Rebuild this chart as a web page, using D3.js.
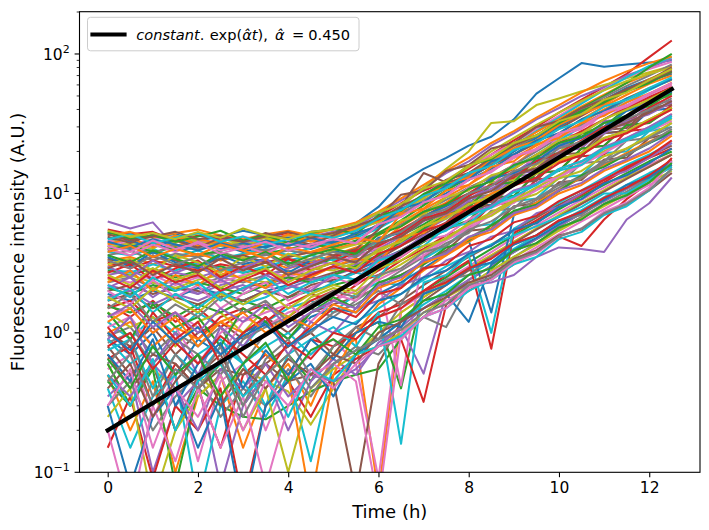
<!DOCTYPE html>
<html><head><meta charset="utf-8">
<script src="https://cdn.jsdelivr.net/npm/d3@7"></script>
<style>body{margin:0;background:#fff}svg{display:block}text{font-family:"DejaVu Sans",sans-serif;fill:#000}</style>
</head><body><svg id="c" width="709" height="530"></svg>
<script>
const times = [0,0.5,1,1.5,2,2.5,3,3.5,4,4.5,5,5.5,6,6.5,7,7.5,8,8.5,9,9.5,10,10.5,11,11.5,12,12.5];
const traces = [
[5.2,4.8,4.9,5.1,4.6,4.9,5.4,5.0,4.8,5.3,5.5,6.1,8.0,12,15,18,22,25.5,34,52,67,86,81,84,87,90],
[0.5,0.2,0.45,0.1,0.35,0.5,0.15,0.4,0.6,0.3,0.7,0.9,0.07,1.4,1.8,2.3,2.9,3.6,4.5,5.6,6.9,8.5,10.5,13,16,19],
[2.8,2.6,2.9,2.5,2.8,3.0,2.7,2.9,3.2,3.0,3.4,3.7,4.3,5.0,6.0,7.5,8.4,11.8,13,18.5,19.5,27,30,41,44,55],
[5.5,5.1,5.3,4.6,5.0,4.7,4.5,4.9,5.2,4.6,5.1,5.6,6.8,8.5,10.5,12,15,19,24,30,38,47,58,72,95,125],
[6.3,5.6,6.2,4.1,4.6,4.2,4.4,4.8,5.0,4.9,5.3,5.8,7.2,8.9,11,14,17,22,27,34,41,50,58,70,80,92],
[1.0,0.8,1.1,0.7,1.0,1.2,0.9,1.3,1.0,1.4,1.6,1.8,2.1,2.6,3.2,3.9,5.4,5.6,8.1,8.5,12,12.5,17.5,18,25,27],
[0.55,0.7,0.25,0.5,0.12,0.45,0.6,0.2,0.5,0.7,0.9,0.6,0.09,1.5,1.9,2.4,3.0,3.8,4.8,5.9,7.3,9.0,11,13.5,16,19],
[2.3,2.5,2.1,2.4,2.2,2.5,2.3,2.6,2.8,2.6,3.0,3.3,3.9,4.6,5.6,6.9,9.3,9.8,14.2,15,21.5,22.5,32,34,47,50],
[4.5,4.9,4.6,4.4,5.2,4.8,4.3,4.6,5.0,5.2,4.8,5.4,6.3,8.0,11,15,20,32,33,43,48,54,60,67,74,82],
[1.2,0.9,1.3,1.0,1.4,1.1,0.8,1.2,1.5,1.7,1.4,1.9,2.3,2.2,3.4,4.2,5.8,6.0,8.8,9.2,13,13.5,19.5,20,28,30],
[4.2,4.0,4.4,3.9,4.1,4.3,3.8,4.2,4.4,4.0,4.5,4.9,6.0,7.3,8.5,10,12.5,15,19,24,30,37,45,55,64,72],
[3.0,3.2,2.7,3.1,2.9,2.6,3.0,3.3,2.9,3.2,3.6,4.1,4.4,5.8,7.2,8.6,11,13,16,21,26,32,40,48,57,65],
[0.45,0.3,0.6,0.2,0.4,0.3,0.25,0.24,0.3,0.38,0.45,0.5,0.55,0.9,1.3,1.8,2.4,3.0,3.8,4.7,5.8,7.2,8.8,10.8,13,16],
[1.6,1.3,1.7,1.2,1.5,1.1,1.4,1.6,1.3,1.7,2.0,2.3,2.6,3.3,4.0,5.0,5.7,8.3,8.6,12.6,13,18.5,19,28,29,37],
[2.2,2.0,2.3,2.1,1.9,2.2,2.4,2.1,2.4,2.7,2.9,3.1,3.6,4.3,5.4,6.6,8.8,9.0,13.2,13.8,20,21,30,31,44,46],
[0.7,0.4,0.6,0.2,0.5,0.7,0.35,0.6,0.8,1.0,0.7,1.1,1.3,1.7,2.2,2.8,3.5,4.3,5.4,6.7,8.3,10,12.5,15,18.5,22],
[4.6,4.3,4.7,4.9,4.4,4.6,4.9,4.5,4.2,4.7,5.0,5.3,6.5,7.8,9.8,12.5,15.5,19,23,29,36,45,56,68,78,88],
[0.95,1.1,0.7,1.0,0.8,1.1,0.6,1.0,1.2,1.5,1.3,1.7,2.2,2.8,3.5,4.4,5.2,7.5,7.8,11,11.5,16.5,17,24,25,32],
[0.6,0.3,0.55,0.4,0.5,0.35,0.55,0.45,0.38,0.22,0.4,0.7,1.0,1.4,1.8,2.3,2.9,3.6,4.5,5.6,7.0,8.6,10.5,13,15.5,19],
[3.8,3.6,4.0,3.5,3.9,3.4,3.7,4.0,3.6,4.1,4.4,4.8,5.6,6.9,8.7,11,14,17,22,28,35,44,55,68,82,95],
[1.9,1.7,2.0,1.8,2.1,1.9,1.7,2.0,2.2,2.5,2.3,2.8,3.3,3.9,4.8,6.0,8.1,8.3,12,12.5,18,18.5,27,28,39,41],
[4.4,4.1,4.5,4.2,4.7,4.4,4.1,4.6,4.3,4.8,5.2,5.5,6.4,7.6,9.3,11.5,14,17.5,22,27.5,34,42,51,62,72,82],
[0.6,0.3,0.55,0.08,0.4,0.6,0.3,0.5,0.7,0.45,0.8,1.0,1.2,0.4,2.0,2.5,3.2,4.0,5.0,6.2,7.7,9.5,11.5,14,17,20],
[1.5,1.7,1.2,1.4,0.9,1.3,1.5,1.2,1.6,1.9,1.7,2.2,2.8,3.5,4.5,5.5,6.3,9.2,9.5,14,14.5,21,22,31,32,43],
[0.35,0.5,0.1,0.3,0.45,0.08,0.3,0.5,0.2,0.45,0.65,0.5,0.85,1.1,0.51,1.9,2.4,3.0,3.8,4.7,5.8,7.2,8.8,10.8,13,16],
[2.0,2.2,1.9,2.1,2.0,1.8,2.1,2.3,2.5,2.4,2.7,3.0,3.4,4.2,5.1,6.2,8.5,8.7,12.6,13,19,19.5,28.5,29.5,41,43],
[1.1,1.3,0.8,1.1,0.6,1.0,1.3,1.1,1.4,1.6,1.9,1.7,2.5,0.42,3.8,4.7,5.8,7.2,8.8,11,13.5,16.5,20,25,30,36],
[3.6,3.9,3.3,3.7,3.5,3.8,3.4,3.6,3.9,3.7,4.2,4.5,5.1,6.0,7.4,9.0,11,13,16,20,25,31,38,47,56,66],
[2.4,2.6,2.3,2.1,2.4,2.6,2.5,2.3,2.7,2.9,2.8,3.2,3.8,4.7,5.8,7.2,8.0,12,12.5,16,19.5,28,29,36,49,57],
[0.4,0.15,0.35,0.5,0.06,0.3,0.45,0.25,0.5,0.12,0.6,0.75,0.9,1.2,1.6,2.0,2.6,3.2,4.0,5.0,6.2,7.6,9.4,11.5,14,16.5],
[0.9,0.7,1.0,0.5,0.9,0.7,1.0,1.2,0.9,1.3,1.5,1.4,1.9,2.3,2.9,3.7,4.6,1.4,7.0,8.6,10.5,13,16,19,23,27],
[5.0,5.3,4.8,5.2,5.5,5.0,4.7,5.1,5.4,5.0,5.6,6.2,7.4,9.2,11.5,14.5,18,23,28,35,43,53,64,75,86,96],
[4.0,4.3,3.8,4.1,3.6,3.9,4.2,3.7,4.0,4.3,4.1,4.6,5.2,6.4,8.2,10.5,13,16,20,26,33,41,50,62,80,100],
[0.65,0.8,0.3,0.6,0.4,0.15,0.5,0.7,0.5,0.9,0.8,1.0,1.4,1.6,2.0,2.6,3.3,0.77,5.2,6.4,8.0,9.8,12,15,18,21],
[2.6,2.8,2.4,2.7,2.5,2.8,3.0,2.6,2.9,3.3,3.1,3.6,4.0,4.9,6.3,7.8,9.0,11.5,14,18,22,27,34,42,51,62],
[0.8,0.5,0.7,0.6,0.4,0.55,0.5,0.6,0.45,0.5,0.45,0.07,0.6,1.2,1.7,2.2,2.8,3.5,4.4,5.5,6.8,8.4,10.3,12.7,15.5,19],
[2.5,2.3,2.6,2.2,2.5,2.3,2.6,2.8,2.5,2.9,3.2,3.5,4.1,5.2,6.5,8.1,11,11.2,16.5,17,26,26.5,39,40,52,60],
[0.3,0.45,0.2,0.35,0.5,0.25,0.4,0.3,0.55,0.35,0.6,0.8,0.7,1.0,1.3,1.1,2.2,2.8,3.5,4.4,5.5,6.8,8.4,10.3,12.7,15.5],
[1.4,1.1,1.3,0.8,1.2,1.4,1.0,1.5,1.3,1.8,2.1,1.9,2.5,3.1,3.9,4.8,6.0,7.3,9.0,11,13.5,16.5,20,24,29,34],
[0.75,0.9,0.4,0.7,0.5,0.8,0.6,0.3,0.7,0.9,1.1,0.8,1.4,0.16,2.3,2.6,3.6,1.0,5.6,6.9,8.6,10.5,13,16,19,23],
[4.8,4.5,4.2,4.6,4.3,4.0,4.4,4.1,4.5,4.2,4.6,5.0,5.8,7.0,8.8,11,13,16,20,25,31,38,47,57,66,76],
[3.3,3.5,3.1,3.4,3.7,3.3,3.6,3.9,3.5,3.8,4.0,4.4,5.0,6.2,7.7,9.4,11.5,14.5,18,22,27,34,42,51,61,70],
[1.55,1.4,1.65,1.3,1.6,1.4,1.7,1.5,1.8,2.0,2.2,2.4,2.9,3.6,4.5,5.6,6.4,9.3,9.6,14,14.5,21,22,31,32,41],
[0.15,0.35,0.09,0.3,0.2,0.4,0.06,0.3,0.45,0.25,0.5,0.65,0.8,0.9,0.32,1.6,2.0,2.5,3.1,3.9,4.9,4.2,6.5,9.1,12,18],
[1.8,2.0,1.6,1.9,1.7,2.0,2.2,1.9,2.1,2.4,2.6,2.9,3.5,4.4,5.5,6.8,9.2,9.4,14,14.3,22,22.5,33,34,48,53],
[3.4,3.1,3.5,3.3,3.0,3.4,3.6,3.2,3.5,3.8,3.6,4.0,5.5,8.0,14,12,13,16,19,23,29,36,44,54,63,74],
[1.3,1.5,1.0,1.4,1.1,0.7,1.2,1.4,1.6,1.2,1.7,2.0,2.4,2.9,3.6,4.6,5.6,7.0,8.6,10.5,13,16,19.5,24,28,33],
[3.9,4.1,3.7,4.3,4.0,4.5,4.2,3.9,4.3,4.6,4.4,5.1,5.9,7.1,8.9,11,13.5,16.5,21,26,32,40,49,59,70,84],
[0.25,0.4,0.06,0.2,0.35,0.5,0.2,0.4,0.1,0.4,0.55,0.7,0.8,1.0,1.4,1.8,2.2,2.8,3.5,4.3,5.4,6.6,8.1,9.9,12,14.5],
[2.9,2.7,3.1,2.8,3.2,2.9,2.7,3.0,3.3,3.6,3.3,3.8,4.5,5.4,6.6,8.2,10,12.5,15.5,19,24,30,37,45,55,66],
[0.3,0.08,0.25,0.4,0.15,0.35,0.05,0.3,0.45,0.6,0.35,0.7,0.9,1.2,1.5,1.9,1.2,3.1,3.9,4.8,6.0,7.3,9.0,11,13.5,16],
[1.0,1.2,0.8,1.1,0.9,1.2,1.0,0.7,0.5,0.06,0.5,1.0,1.6,2.1,2.8,3.6,4.5,5.6,7.0,8.6,10.6,13,16,19.5,23.5,28],
[2.1,1.9,2.2,2.0,2.3,2.1,1.9,2.2,2.5,2.3,2.6,3.0,3.6,4.5,5.6,7.0,7.9,11.6,12,17.8,18.5,27,28,40,42,54],
[3.2,2.9,3.3,3.0,2.8,3.1,2.9,3.2,3.4,3.1,3.5,3.9,4.6,5.5,6.8,8.4,10,12.5,15,19,23,28,34,41,49,58],
[0.5,0.35,0.6,0.4,0.2,0.55,0.4,0.6,0.35,0.5,0.45,0.55,0.8,1.1,1.5,1.9,2.2,2.3,2.6,3.5,4.1,4.0,3.8,6.5,8.5,13],
[1.7,1.9,1.5,1.8,1.6,1.9,1.7,2.0,1.8,2.2,2.4,2.7,3.1,3.9,4.8,5.9,8.0,8.2,12,12.3,18,18.5,27,28,40,44],
[0.2,0.05,0.3,0.12,0.4,0.15,0.35,0.08,0.3,0.5,0.6,0.45,0.06,1.0,1.3,1.7,2.1,2.7,3.3,4.1,5.1,6.3,7.7,9.5,11.5,14],
[0.85,1.0,0.6,0.9,0.7,0.5,0.9,1.1,1.3,1.0,1.4,1.6,2.0,1.6,3.1,3.8,4.8,5.9,7.3,9.0,11,13.5,17,21,25,30],
[4.1,4.4,4.0,5.0,4.5,4.2,4.6,4.8,4.4,4.9,5.1,5.6,6.2,7.6,9.2,12,15.5,20,25,31,38,46,55,64,72,80],
[0.9,0.6,0.8,0.5,0.7,0.9,0.6,0.8,1.0,0.7,1.0,1.2,1.5,1.9,2.4,3.0,3.6,4.3,5.0,5.8,6.8,8.0,10,10,12.5,15.5],
[3.5,3.0,3.8,3.2,2.9,3.6,3.1,3.4,2.7,3.3,3.9,3.5,4.8,5.2,6.9,8.1,9.5,12.8,14,17,22,25,30,39,44,53],
[4.3,4.8,4.1,5.0,4.2,4.6,3.9,4.4,5.1,4.5,4.9,5.7,6.4,7.3,9.8,11.5,13,17.5,21,24,31,37,43,55,66,78],
[1.4,0.9,1.6,1.1,1.3,0.8,1.5,1.2,0.9,1.4,1.8,1.5,2.3,2.6,3.1,4.1,4.6,5.9,7.5,8.3,10.4,13.5,15.5,19,23,28],
[2.7,3.1,2.4,2.9,3.3,2.5,3.0,2.6,3.4,2.8,3.2,3.8,4.2,5.1,6.6,7.4,9.6,11.5,13,17,19.5,24,30,33,41,50],
[0.9,1.3,0.6,1.0,0.5,1.1,0.8,1.3,0.7,1.2,1.0,1.5,1.7,2.2,2.5,3.3,3.8,4.9,5.4,7.2,8.0,10,12.8,14.5,18,23],
[4.9,4.4,5.1,4.6,4.1,4.8,4.5,5.2,4.7,4.3,5.0,5.9,6.5,8.1,9.6,12.5,14,18,22,26,33,39,46,56,65,80],
[2.0,1.6,2.4,1.8,2.2,1.5,1.9,2.3,1.7,2.1,2.5,2.2,3.2,3.5,4.6,5.0,6.5,7.9,9.2,11.8,13,16.5,21,24,29,36],
[0.6,0.9,0.35,0.7,0.45,0.8,0.3,0.65,0.9,0.5,0.8,1.1,0.9,1.6,1.9,2.4,2.6,3.5,4.3,5.0,6.4,7.0,9.1,11,13,17],
[3.1,3.4,2.8,3.6,3.2,2.7,3.5,3.0,3.7,3.3,3.9,4.3,4.6,6.4,7.0,9.4,10.5,13.5,15,19,24,27,34,40,47,57],
[1.7,2.1,1.4,1.9,1.5,2.0,1.6,1.8,2.2,1.9,2.3,2.7,2.5,3.9,4.2,5.7,6.1,8.2,9.5,11.5,14.6,16,21,24,28,35],
[0.7,0.45,0.9,0.3,0.6,0.85,0.4,0.75,0.5,0.9,0.65,1.0,1.2,1.1,1.9,2.2,2.9,3.2,4.3,5.0,6.3,7.4,9.0,11.5,13,17],
[2.3,2.8,2.0,2.6,2.2,2.9,2.4,2.1,2.7,2.5,3.0,3.4,3.2,4.9,5.2,7.0,7.7,10,11.5,14,17,19.5,25,28,34,41],
[5.3,4.7,5.0,4.5,4.9,5.4,4.6,5.0,4.4,5.2,5.6,5.1,7.0,7.5,9.9,11.8,16,17.5,23,26,32,39,45,54,62,75],
[1.1,0.7,1.4,0.9,1.2,0.6,1.0,1.3,0.8,1.1,1.5,1.3,1.9,2.1,2.9,3.1,4.2,4.7,6.2,6.9,8.8,10.5,12.5,15.5,18.5,24],
[3.0,2.5,3.3,2.7,3.1,2.4,2.9,3.4,2.6,3.1,3.5,3.2,4.4,4.9,6.4,7.1,9.2,10.8,13.5,15,19,23,27,33,37,45],
[0.4,0.6,0.25,0.45,0.7,0.3,0.55,0.4,0.65,0.5,0.7,0.6,1.0,1.2,1.5,1.8,2.3,2.6,3.4,3.9,5.0,5.5,7.2,8.4,10.5,14],
[4.0,3.6,4.3,3.8,4.5,3.9,4.2,3.7,4.4,4.1,4.7,4.4,6.0,6.8,8.7,9.6,12.5,14.5,18,20.5,26,29,37,42,51,60],
[1.5,1.9,1.2,1.6,1.3,1.8,1.4,1.7,1.2,1.6,2.0,1.8,2.6,2.9,3.8,4.2,5.5,6.3,8.0,9.2,11.5,13,16.5,19,23,29],
[2.6,2.2,2.9,2.4,2.7,2.1,2.5,2.9,2.3,2.8,3.2,2.9,4.0,4.5,5.8,6.6,8.4,9.5,12,13.8,17.5,19.5,25,28,34,41],
[0.5,0.3,0.65,0.2,0.45,0.6,0.35,0.5,0.25,0.55,0.45,0.7,0.8,0.95,1.3,1.5,2.0,2.4,3.1,3.5,4.7,5.3,7.0,8.1,10.5,15],
[4.5,4.1,4.7,4.3,3.9,4.4,4.0,4.6,4.2,4.8,4.4,5.2,5.8,7.8,8.6,11.5,12.5,17,19,24,27,34,39,48,56,66],
[1.2,1.5,1.0,1.3,0.8,1.2,1.4,1.0,1.3,1.1,1.6,1.4,2.1,2.4,3.2,3.6,4.7,5.3,7.0,7.9,10,11.5,14.5,17,20,26],
[3.6,3.2,3.9,3.4,3.0,3.7,3.3,3.8,3.1,3.6,4.0,3.7,5.1,5.8,7.4,8.3,10.8,12.2,16,18,23,25.5,32,36,44,52],
[0.8,1.0,0.55,0.85,0.6,0.95,0.7,0.5,0.85,0.65,1.0,0.9,1.3,1.5,2.0,2.3,2.9,3.4,4.4,5.0,6.4,7.4,9.3,11,13.5,17.5],
[2.1,2.5,1.8,2.3,1.9,2.4,2.0,2.6,2.2,2.0,2.6,2.4,3.4,3.8,5.0,5.6,7.2,8.1,10.5,11.8,15,17,21.5,25,30,37],
[5.1,4.6,4.9,5.3,4.7,5.0,4.5,4.9,5.3,4.8,5.2,5.8,6.7,9.8,10.5,14.5,16,21,23,30,33,41,47,56,64,76],
[0.3,0.55,0.15,0.4,0.25,0.5,0.2,0.45,0.3,0.55,0.4,0.6,0.8,0.9,1.3,1.5,2.1,2.4,3.2,3.7,4.9,5.6,7.4,8.6,11,17],
[3.3,2.9,3.6,3.1,3.5,2.8,3.2,3.7,3.0,3.4,3.8,3.5,4.7,5.3,6.9,7.7,10,11.3,14.5,16.3,21,23.5,29,34,40,48],
[1.8,1.5,2.1,1.7,1.4,1.9,1.6,2.0,1.5,1.9,2.2,2.0,2.9,3.3,4.2,4.7,6.1,6.9,8.8,9.9,12.8,14.5,18.5,21,26,32],
[4.7,5.1,4.4,4.8,5.2,4.5,4.9,4.3,4.7,5.1,4.8,5.4,6.6,7.6,9.6,10.9,14,15.8,20.5,23,29,33,42,47,57,68],
[1.0,0.75,1.2,0.85,1.1,0.7,0.95,1.15,0.8,1.05,1.3,1.15,1.7,1.9,2.5,2.8,3.7,4.2,5.5,6.1,8.0,9.1,11.8,13.5,16.5,21],
[3.8,4.2,3.5,4.0,3.6,4.3,3.9,3.4,4.1,3.8,4.3,4.8,4.5,7.1,7.8,10.5,11.5,15.5,17,22.5,25,32,36,45,52,62],
[0.65,0.4,0.8,0.5,0.7,0.35,0.6,0.85,0.45,0.75,0.9,0.7,1.1,1.25,1.7,1.9,2.6,2.9,3.9,4.4,5.7,6.5,8.4,9.7,12,16.5],
[2.5,2.1,2.8,2.3,2.6,2.0,2.4,2.8,2.2,2.6,3.0,2.7,3.7,4.2,5.4,6.1,7.9,8.9,11.4,12.9,16.5,18.8,24,27,33,40],
[1.3,1.6,1.1,1.4,1.0,1.5,1.2,1.6,1.1,1.4,1.7,1.5,2.2,2.5,3.3,3.7,4.9,5.5,7.2,8.1,10.5,11.9,15,17.5,21,27],
[2.9,3.3,2.6,3.1,2.7,3.4,2.8,3.2,2.6,3.0,3.5,3.2,4.4,4.9,6.4,7.2,9.2,10.4,13.5,15.2,19.5,22,28,32,38,46],
[4.2,3.8,4.6,4.0,4.4,3.7,4.1,4.5,3.9,4.3,4.7,4.4,6.0,6.8,8.6,9.7,12.6,14.2,18.5,20.8,27,30,38,43,52,62],
[0.45,0.7,0.3,0.55,0.4,0.65,0.25,0.5,0.7,0.4,0.6,0.75,0.9,1.05,1.4,1.6,2.2,2.5,3.3,3.8,4.9,5.6,7.2,8.4,10.6,15],
[5.4,4.9,5.2,4.7,5.3,4.8,5.6,5.0,4.7,5.3,5.5,6.0,7.3,8.4,10.8,12.3,15.8,18,23,26,33,37,47,53,65,78],
[2.2,1.8,2.5,2.0,2.3,1.7,2.1,2.5,1.9,2.3,2.6,2.4,3.3,3.7,4.8,5.4,7.0,7.9,10.2,11.5,15,17,21,24.5,29,36]
];
const fitTimes = [0, 12.5];
const fitValues = [0.2, 56];
const xTicks = [0,2,4,6,8,10,12];
const yMajor = [0.1,1,10,100];
const yExp = ["\u22121","0","1","2"];
const colors = ["#1f77b4","#ff7f0e","#2ca02c","#d62728","#9467bd","#8c564b","#e377c2","#7f7f7f","#bcbd22","#17becf"];
// legend pieces: text, italic?, x position (null = follows previous)
const legendParts = [["constant",1,136.2],[".",0,null],["exp(",0,209.8],["\u03b1\u0302t",1,null],["),",0,null],["\u03b1\u0302",1,275],["=",0,292],["0.450",0,308.3]];
const xLabel = "Time (h)", yLabel = "Fluorescence intensity (A.U.)";

const L=79.5,R=700,T=11.7,B=472.3;
const svg=d3.select("#c");
const x=d3.scaleLinear().domain([-0.625,13.125]).range([L,R]);
const y=d3.scaleLog().domain([0.1,201]).range([B,T]);

svg.append("defs").append("clipPath").attr("id","clip").append("rect")
  .attr("x",L).attr("y",T).attr("width",R-L).attr("height",B-T);

const line=d3.line().x((d,i)=>x(times[i])).y(d=>y(d));
const g=svg.append("g").attr("clip-path","url(#clip)");
traces.forEach((tr,i)=>{
  g.append("path").attr("d",line(tr)).attr("fill","none")
   .attr("stroke",colors[i%10]).attr("stroke-width",2.05).attr("stroke-linejoin","round");
});
g.append("path").attr("d",d3.line().x((d,i)=>x(fitTimes[i])).y(d=>y(d))(fitValues))
  .attr("fill","none").attr("stroke","#000").attr("stroke-width",4.2).attr("stroke-linecap","square");

svg.append("rect").attr("x",L).attr("y",T).attr("width",R-L).attr("height",B-T)
  .attr("fill","none").attr("stroke","#000").attr("stroke-width",1.1);

const xa=svg.append("g").attr("transform",`translate(0,${B})`)
  .call(d3.axisBottom(x).tickValues(xTicks).tickSize(4.9).tickPadding(4.5).tickFormat(d3.format("d")));
xa.select(".domain").remove();
xa.selectAll("line").attr("stroke-width",1.1);
xa.selectAll("text").attr("font-size",15.5).attr("font-family","DejaVu Sans");

const minor=y.ticks().filter(v=>!yMajor.some(m=>Math.abs(m-v)<1e-9));
const ya=svg.append("g").attr("transform",`translate(${L},0)`);
ya.selectAll("line.mj").data(yMajor).join("line").attr("x1",-4.9).attr("x2",0)
  .attr("y1",d=>y(d)).attr("y2",d=>y(d)).attr("stroke","#000").attr("stroke-width",1.1);
ya.selectAll("line.mn").data(minor).join("line").attr("x1",-2.8).attr("x2",0)
  .attr("y1",d=>y(d)).attr("y2",d=>y(d)).attr("stroke","#000").attr("stroke-width",0.8);
yMajor.forEach((v,i)=>{
  const t=ya.append("text").attr("x",-9.8).attr("y",y(v)+5.6).attr("text-anchor","end").attr("font-size",15.5);
  t.append("tspan").text("10");
  t.append("tspan").attr("font-size",11).attr("dy",-7).text(yExp[i]);
});

svg.append("text").attr("x",(L+R)/2).attr("y",518).attr("text-anchor","middle").attr("font-size",18).text(xLabel);
svg.append("text").attr("transform",`translate(24,${(T+B)/2}) rotate(-90)`).attr("text-anchor","middle").attr("font-size",18).text(yLabel);

const lg=svg.append("g");
lg.append("rect").attr("x",87.5).attr("y",17.3).attr("width",271.5).attr("height",33.5).attr("rx",3)
  .attr("fill","#fff").attr("fill-opacity",0.8).attr("stroke","#cccccc").attr("stroke-width",1);
lg.append("line").attr("x1",92.5).attr("x2",124.5).attr("y1",34.5).attr("y2",34.5).attr("stroke","#000").attr("stroke-width",4.2).attr("stroke-linecap","square");
const lt=lg.append("text").attr("y",39.8).attr("font-size",14.6);
legendParts.forEach(p=>{
  const s=lt.append("tspan").attr("font-style",p[1]?"italic":"normal").text(p[0]);
  if(p[2]!==null) s.attr("x",p[2]);
});
</script></body></html>
